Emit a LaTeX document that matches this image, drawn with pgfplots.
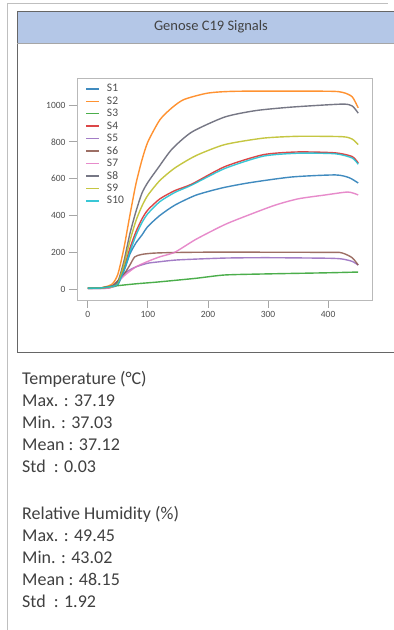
\documentclass[border=0pt]{standalone}
\usepackage{pgfplots}
\pgfplotsset{compat=1.18}
\usepackage{fontspec}
\setmainfont{Carlito}
\definecolor{hdr}{HTML}{B4C7E7}
\definecolor{txt}{HTML}{4D4D4D}
\definecolor{stat}{HTML}{404040}
\definecolor{c1}{HTML}{1F77B4}
\definecolor{c2}{HTML}{FF7F0E}
\definecolor{c3}{HTML}{2CA02C}
\definecolor{c4}{HTML}{D62728}
\definecolor{c5}{HTML}{9467BD}
\definecolor{c6}{HTML}{8C564B}
\definecolor{c7}{HTML}{E377C2}
\definecolor{c8}{HTML}{5F6070}
\definecolor{c9}{HTML}{BCBD22}
\definecolor{c10}{HTML}{17BECF}
\begin{document}
\begin{tikzpicture}[x=1pt,y=1pt]
\path[use as bounding box,fill=white] (0,0) rectangle (394,630);
% outer frame lines
\draw[gray!50,line width=0.8pt] (7,0) -- (7,627) -- (388,627);
% panel
\fill[hdr] (17,587) rectangle (400,619);
\draw[gray!80!black,line width=0.9pt] (400,619) -- (17,619) -- (17,278) -- (400,278);
\draw[gray!70,line width=0.6pt] (17,587) -- (400,587);
\node[font=\fontsize{14.5}{16}\selectfont,text=txt!85!black] at (211,603) {Genose C19 Signals};
\begin{axis}[
  at={(77pt,330pt)}, anchor=south west, scale only axis,
  width=295pt, height=222pt,
  xmin=-18, xmax=473, ymin=-60, ymax=1147,
  xtick={0,100,200,300,400}, ytick={0,200,400,600,800,1000},
  tick pos=left, tick align=outside, major tick length=8pt,
  axis line style={gray!55, line width=0.8pt},
  tick style={gray!70, line width=0.8pt},
  /pgf/number format/assume math mode=true,
  /pgf/number format/1000 sep={},
  ticklabel style={font=\fontsize{9.5}{11}\selectfont, text=txt},
  legend style={at={(0.025,0.985)}, anchor=north west, draw=none, fill=none,
    font=\fontsize{11.5}{12}\selectfont, text=txt, row sep=-0.6pt, inner sep=1pt},
  legend cell align=left,
  legend image code/.code={\draw[#1] (0pt,0pt) -- (13pt,0pt); \path (18pt,0pt);},
  every axis plot/.append style={line width=1.4pt, smooth, tension=0.4, opacity=0.85},
]
\addplot[c1] coordinates {(0,5)(20,5)(40,10)(50,25)(62,114)(70,190)(80,250)(90,293)(100,340)(120,400)(145,456)(180,510)(223,549)(270,578)(340,609)(412,620)(435,605)(450,576)};
\addlegendentry{S1}
\addplot[c2] coordinates {(0,5)(20,5)(40,25)(50,80)(60,220)(70,400)(80,570)(90,700)(100,800)(120,920)(140,985)(160,1030)(200,1065)(250,1075)(400,1075)(425,1068)(440,1045)(450,985)};
\addlegendentry{S2}
\addplot[c3] coordinates {(0,3)(20,5)(33,11)(50,18)(80,28)(117,38)(180,58)(228,76)(300,82)(400,88)(450,92)};
\addlegendentry{S3}
\addplot[c4] coordinates {(0,5)(20,5)(40,15)(50,25)(60,110)(70,220)(80,310)(90,380)(100,430)(120,490)(145,535)(173,570)(228,665)(292,730)(350,745)(412,740)(440,720)(450,685)};
\addlegendentry{S4}
\addplot[c5] coordinates {(0,3)(20,3)(40,10)(62,87)(80,120)(100,140)(117,147)(150,158)(228,168)(300,170)(400,167)(423,163)(440,150)(450,130)};
\addlegendentry{S5}
\addplot[c6] coordinates {(0,3)(20,3)(40,15)(60,80)(70,130)(78,174)(90,188)(117,196)(200,200)(400,199)(423,196)(440,170)(450,130)};
\addlegendentry{S6}
\addplot[c7] coordinates {(0,3)(20,3)(40,10)(62,76)(80,120)(100,150)(120,175)(145,200)(180,270)(228,350)(270,405)(312,456)(350,490)(395,511)(433,527)(450,511)};
\addlegendentry{S7}
\addplot[c8] coordinates {(0,5)(20,5)(40,15)(50,40)(60,150)(70,300)(80,420)(90,520)(100,580)(117,658)(140,760)(173,853)(228,935)(280,970)(340,989)(423,1005)(440,995)(450,956)};
\addlegendentry{S8}
\addplot[c9] coordinates {(0,5)(20,5)(40,12)(50,30)(60,130)(70,260)(80,370)(90,450)(100,510)(120,590)(145,658)(180,725)(228,785)(292,820)(350,830)(423,828)(440,815)(450,785)};
\addlegendentry{S9}
\addplot[c10] coordinates {(0,5)(20,5)(40,14)(50,25)(60,100)(70,200)(80,290)(90,360)(100,410)(120,475)(145,525)(173,565)(228,655)(292,722)(350,738)(412,735)(440,712)(450,678)};
\addlegendentry{S10}
\end{axis}
\begin{scope}[every node/.style={anchor=base west, font=\fontsize{18}{20}\selectfont, text=stat, inner sep=0pt}]
\node at (22,245) {Temperature (°C)};
\node at (22,223) {Max. : 37.19};
\node at (22,201) {Min. : 37.03};
\node at (22,179) {Mean : 37.12};
\node at (22,157) {Std~ : 0.03};
\node at (22,110) {Relative Humidity (\%)};
\node at (22,88) {Max. : 49.45};
\node at (22,66) {Min. : 43.02};
\node at (22,44) {Mean : 48.15};
\node at (22,22) {Std~ : 1.92};
\end{scope}
\end{tikzpicture}
\end{document}
